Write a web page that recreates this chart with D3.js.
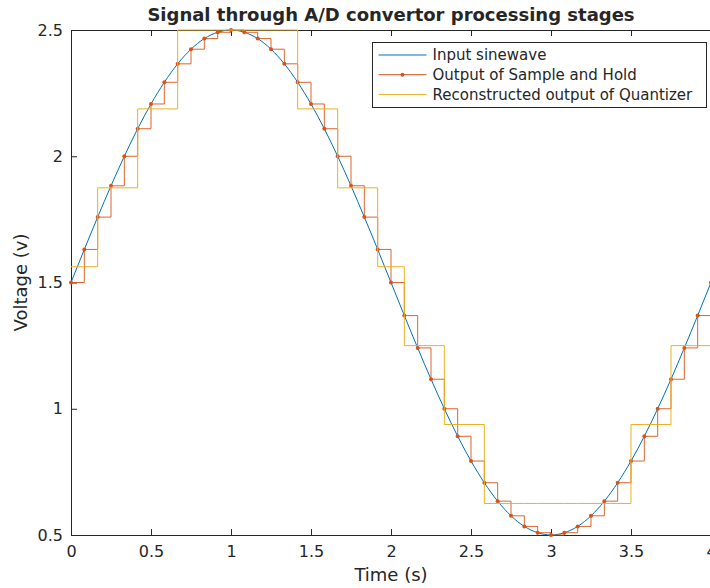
<!DOCTYPE html>
<html>
<head>
<meta charset="utf-8">
<script src="https://cdn.jsdelivr.net/npm/d3@7"></script>
<style>
  body { margin: 0; background: #fff; }
  svg { display: block; }
  text { font-family: "DejaVu Sans", sans-serif; fill: #262626; }
</style>
</head>
<body>
<svg id="chart" width="710" height="588"></svg>
<script>
// Sample instants (s), sampled every 1/12 s
const sampleTimes = [
  0, 0.0833, 0.1667, 0.25, 0.3333, 0.4167, 0.5, 0.5833, 0.6667, 0.75, 0.8333, 0.9167,
  1, 1.0833, 1.1667, 1.25, 1.3333, 1.4167, 1.5, 1.5833, 1.6667, 1.75, 1.8333, 1.9167,
  2, 2.0833, 2.1667, 2.25, 2.3333, 2.4167, 2.5, 2.5833, 2.6667, 2.75, 2.8333, 2.9167,
  3, 3.0833, 3.1667, 3.25, 3.3333, 3.4167, 3.5, 3.5833, 3.6667, 3.75, 3.8333, 3.9167, 4
];
// Input sinewave voltage at each sample instant (also the held value)
const sampleVolts = [
  1.5, 1.631, 1.759, 1.883, 2.0, 2.109, 2.207, 2.293, 2.366, 2.424, 2.466, 2.491,
  2.5, 2.491, 2.466, 2.424, 2.366, 2.293, 2.207, 2.109, 2.0, 1.883, 1.759, 1.631,
  1.5, 1.369, 1.241, 1.117, 1.0, 0.891, 0.793, 0.707, 0.634, 0.576, 0.534, 0.509,
  0.5, 0.509, 0.534, 0.576, 0.634, 0.707, 0.793, 0.891, 1.0, 1.117, 1.241, 1.369, 1.5
];
// Quantizer output levels (step 0.3125 V)
const quantVolts = [
  1.5625, 1.5625, 1.875, 1.875, 1.875, 2.1875, 2.1875, 2.1875, 2.5, 2.5, 2.5, 2.5,
  2.5, 2.5, 2.5, 2.5, 2.5, 2.1875, 2.1875, 2.1875, 1.875, 1.875, 1.875, 1.5625,
  1.5625, 1.25, 1.25, 1.25, 0.9375, 0.9375, 0.9375, 0.625, 0.625, 0.625, 0.625, 0.625,
  0.625, 0.625, 0.625, 0.625, 0.625, 0.625, 0.9375, 0.9375, 0.9375, 1.25, 1.25, 1.25, 1.5625
];
const xTicks = [0, 0.5, 1, 1.5, 2, 2.5, 3, 3.5, 4];
const yTicks = [0.5, 1, 1.5, 2, 2.5];
const seriesNames = ["Input sinewave", "Output of Sample and Hold", "Reconstructed output of Quantizer"];
const seriesColors = ["#0072BD", "#D95319", "#EDB120"];

const svg = d3.select("#chart");
const plotLeft = 71, plotRight = 711, plotTop = 30, plotBottom = 535;
const axisColor = "#262626";

const x = d3.scaleLinear().domain([0, 4]).range([plotLeft, plotRight]);
const y = d3.scaleLinear().domain([0.5, 2.5]).range([plotBottom, plotTop]);

// Axes with inward ticks
const fmt = d3.format("");
const gx = svg.append("g").attr("transform", `translate(0,${plotBottom})`)
  .call(d3.axisBottom(x).tickValues(xTicks).tickFormat(fmt).tickSizeInner(-6).tickSizeOuter(0).tickPadding(11));
const gxTop = svg.append("g").attr("transform", `translate(0,${plotTop})`)
  .call(d3.axisTop(x).tickValues(xTicks).tickFormat("").tickSizeInner(-6).tickSizeOuter(0));
const gy = svg.append("g").attr("transform", `translate(${plotLeft},0)`)
  .call(d3.axisLeft(y).tickValues(yTicks).tickFormat(fmt).tickSizeInner(-6).tickSizeOuter(0).tickPadding(8));
[gx, gxTop, gy].forEach(g => {
  g.select(".domain").remove();
  g.selectAll("line").attr("stroke", axisColor);
  g.selectAll("text").attr("fill", axisColor).style("font-size", "16px").style("font-family", "DejaVu Sans");
});

// Axes box (top, left, bottom)
svg.append("path")
  .attr("d", `M${plotRight + 1},${plotTop + 0.5}H${plotLeft + 0.5}V${plotBottom + 0.5}H${plotRight + 1}`)
  .attr("fill", "none").attr("stroke", axisColor).attr("stroke-width", 1);

const samples = sampleTimes.map((t, i) => ({ t, v: sampleVolts[i], q: quantVolts[i] }));

const plot = svg.append("g");

// Input sinewave (smooth)
plot.append("path").datum(samples)
  .attr("d", d3.line().x(d => x(d.t)).y(d => y(d.v)).curve(d3.curveNatural))
  .attr("fill", "none").attr("stroke", seriesColors[0]).attr("stroke-width", 1);

// Sample and hold staircase with sample markers
plot.append("path").datum(samples)
  .attr("d", d3.line().x(d => x(d.t)).y(d => y(d.v)).curve(d3.curveStepAfter))
  .attr("fill", "none").attr("stroke", seriesColors[1]).attr("stroke-width", 0.9);
plot.selectAll("circle.sh").data(samples).join("circle")
  .attr("class", "sh")
  .attr("cx", d => x(d.t)).attr("cy", d => y(d.v)).attr("r", 2)
  .attr("fill", seriesColors[1]);

// Quantizer reconstruction staircase
plot.append("path").datum(samples)
  .attr("d", d3.line().x(d => x(d.t)).y(d => y(d.q)).curve(d3.curveStepAfter))
  .attr("fill", "none").attr("stroke", seriesColors[2]).attr("stroke-width", 1);

// Title and axis labels
svg.append("text").attr("x", 391).attr("y", 21)
  .attr("text-anchor", "middle").style("font-size", "18px").style("font-weight", "bold")
  .attr("fill", "#000").text("Signal through A/D convertor processing stages");
svg.append("text").attr("x", 391).attr("y", 581)
  .attr("text-anchor", "middle").style("font-size", "18px").text("Time (s)");
svg.append("text").attr("transform", `translate(27,${(plotTop + plotBottom) / 2}) rotate(-90)`)
  .attr("text-anchor", "middle").style("font-size", "18px").text("Voltage (v)");

// Legend
const lg = svg.append("g").attr("transform", "translate(372.5,42.5)");
lg.append("rect").attr("width", 334).attr("height", 65)
  .attr("fill", "#fff").attr("stroke", axisColor).attr("stroke-width", 1);
seriesNames.forEach((name, i) => {
  const cy = 12.5 + i * 19.7;
  lg.append("line").attr("x1", 6).attr("x2", 54).attr("y1", cy).attr("y2", cy)
    .attr("stroke", seriesColors[i]).attr("stroke-width", 1);
  if (i === 1) lg.append("circle").attr("cx", 30).attr("cy", cy).attr("r", 2).attr("fill", seriesColors[i]);
  lg.append("text").attr("x", 60).attr("y", cy).attr("dy", "0.35em")
    .style("font-size", "15px").text(name);
});
</script>
</body>
</html>
